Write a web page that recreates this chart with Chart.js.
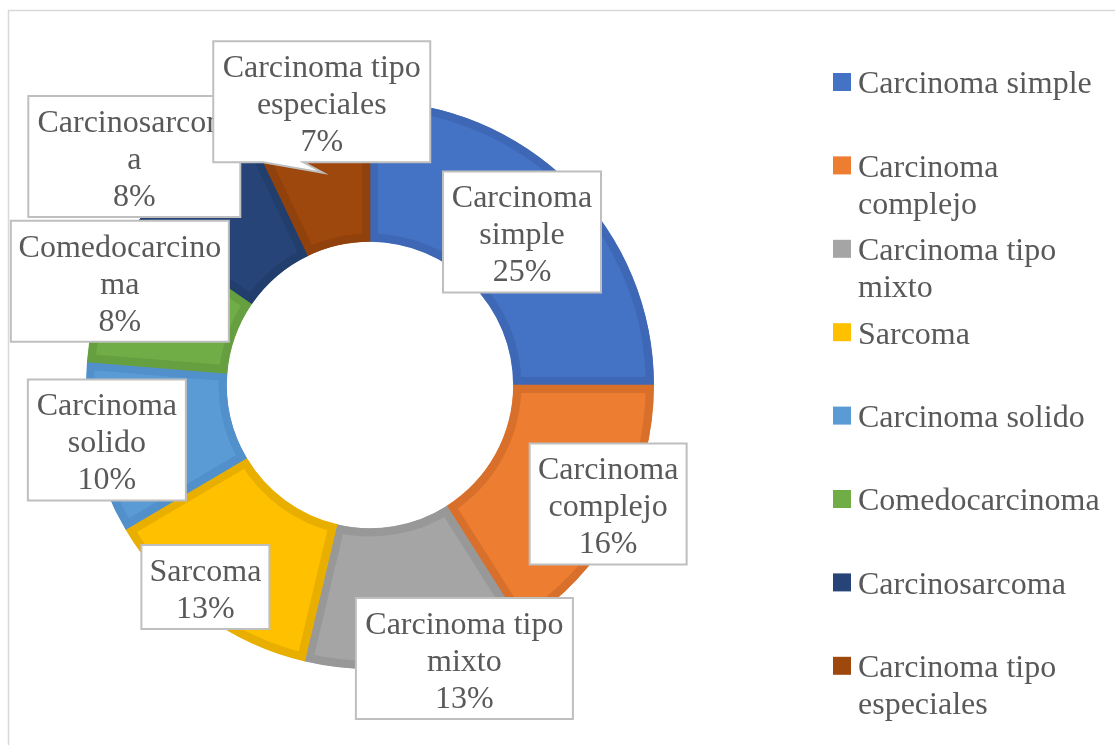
<!DOCTYPE html>
<html>
<head>
<meta charset="utf-8">
<script src="https://cdn.jsdelivr.net/npm/chart.js@4/dist/chart.umd.min.js"></script>
<style>
  html, body { margin: 0; padding: 0; background: #ffffff; }
  #wrap { width: 1115px; height: 745px; }
</style>
</head>
<body>
<div id="wrap"><canvas id="tumorChart" width="1115" height="745"></canvas></div>
<script>
// datos del gráfico
const categories = ['Carcinoma simple', 'Carcinoma complejo', 'Carcinoma tipo mixto', 'Sarcoma',
    'Carcinoma solido', 'Comedocarcinoma', 'Carcinosarcoma', 'Carcinoma tipo especiales'];
const values = [25, 16, 12.7, 12.8, 9.8, 8.3, 8.3, 7.1];
// texto de las etiquetas tal como se corta en la imagen
const labelLines = [['Carcinoma', 'simple'], ['Carcinoma', 'complejo'], ['Carcinoma tipo', 'mixto'], ['Sarcoma'],
    ['Carcinoma', 'solido'], ['Comedocarcino', 'ma'], ['Carcinosarcom', 'a'], ['Carcinoma tipo', 'especiales']];

const fillColors = ['#4472C4', '#ED7D31', '#A5A5A5', '#FFC000', '#5B9BD5', '#70AD47', '#264478', '#9E480E'];
const edgeColors = ['#3E68B6', '#D8702B', '#989898', '#E9AF00', '#5190CB', '#669F40', '#223E6D', '#91410C'];

// desplazamiento de cada cuadro respecto al centro del sector, y su ancho
const labelOffsets = [[1, -2], [51, 16], [59, 63], [-38, 30], [-55, 7], [-49, -32], [-97, -66], [-1, -75]];
const labelWidths = [158, 157, 217, 128, 158, 218, 212, 217];

const FONT = '32px "Liberation Serif", "Times New Roman", serif';
const TEXT_COLOR = '#595959';
const LINE_H = 37;

const frame = {
    id: 'frame',
    beforeDraw(chart) {
        const ctx = chart.ctx;
        ctx.save();
        ctx.fillStyle = '#ffffff';
        ctx.fillRect(0, 0, chart.width, chart.height);
        ctx.strokeStyle = '#D9D9D9';
        ctx.lineWidth = 1.5;
        ctx.strokeRect(8.5, 10.5, 1200, 800);
        ctx.restore();
    }
};

const calloutLabels = {
    id: 'calloutLabels',
    afterDatasetsDraw(chart) {
        const ctx = chart.ctx;
        const meta = chart.getDatasetMeta(0);
        const data = chart.data.datasets[0].data;
        const total = data.reduce((a, b) => a + b, 0);
        ctx.save();
        ctx.font = FONT;
        ctx.textAlign = 'center';
        ctx.textBaseline = 'middle';
        meta.data.forEach((arc, i) => {
            const p = arc.getProps(['x', 'y', 'startAngle', 'endAngle', 'innerRadius', 'outerRadius'], true);
            const mid = (p.startAngle + p.endAngle) / 2;
            const r = (p.innerRadius + p.outerRadius) / 2;
            const ax = p.x + Math.cos(mid) * r;
            const ay = p.y + Math.sin(mid) * r;
            const cx = ax + labelOffsets[i][0];
            const cy = ay + labelOffsets[i][1];
            const lines = labelLines[i].concat([Math.round(data[i] / total * 100) + '%']);
            const w = labelWidths[i];
            const h = lines.length * LINE_H + 10;
            const left = cx - w / 2, top = cy - h / 2, right = cx + w / 2, bottom = cy + h / 2;

            ctx.beginPath();
            ctx.moveTo(left, top);
            ctx.lineTo(right, top);
            ctx.lineTo(right, bottom);
            if (i === 7) {
                // flecha del globo hacia el sector
                ctx.lineTo(left + 90, bottom);
                ctx.lineTo(ax, ay - 4);
                ctx.lineTo(left + 50, bottom);
            }
            ctx.lineTo(left, bottom);
            ctx.closePath();
            ctx.fillStyle = '#ffffff';
            ctx.fill();
            ctx.strokeStyle = '#BFBFBF';
            ctx.lineWidth = 2;
            ctx.stroke();

            ctx.fillStyle = TEXT_COLOR;
            const y0 = cy - (lines.length - 1) * LINE_H / 2;
            lines.forEach((t, k) => ctx.fillText(t, cx, y0 + k * LINE_H + 4));
        });
        ctx.restore();
    }
};

function wrapText(ctx, text, maxW) {
    const words = text.split(' ');
    const out = [];
    let cur = '';
    words.forEach(w => {
        const test = cur ? cur + ' ' + w : w;
        if (cur && ctx.measureText(test).width > maxW) {
            out.push(cur);
            cur = w;
        } else {
            cur = test;
        }
    });
    if (cur) out.push(cur);
    return out;
}

const sideLegend = {
    id: 'sideLegend',
    afterDraw(chart) {
        const ctx = chart.ctx;
        const ds = chart.data.datasets[0];
        ctx.save();
        ctx.font = FONT;
        ctx.textAlign = 'left';
        ctx.textBaseline = 'middle';
        chart.data.labels.forEach((name, i) => {
            const y = 82 + i * 83.4;
            ctx.fillStyle = ds.backgroundColor[i];
            ctx.fillRect(833, y - 9, 18, 18);
            ctx.fillStyle = TEXT_COLOR;
            wrapText(ctx, name, 252).forEach((t, k) => ctx.fillText(t, 858, y + k * LINE_H + 3));
        });
        ctx.restore();
    }
};

new Chart(document.getElementById('tumorChart'), {
    type: 'doughnut',
    data: {
        labels: categories,
        datasets: [{
            data: values,
            backgroundColor: fillColors,
            borderColor: edgeColors,
            borderWidth: 8,
            borderAlign: 'inner'
        }]
    },
    options: {
        responsive: false,
        animation: false,
        cutout: '50.4%',
        layout: { padding: { left: 86, right: 461, top: 101, bottom: 76 } },
        plugins: {
            legend: { display: false },
            tooltip: { enabled: false }
        }
    },
    plugins: [frame, calloutLabels, sideLegend]
});
</script>
</body>
</html>
